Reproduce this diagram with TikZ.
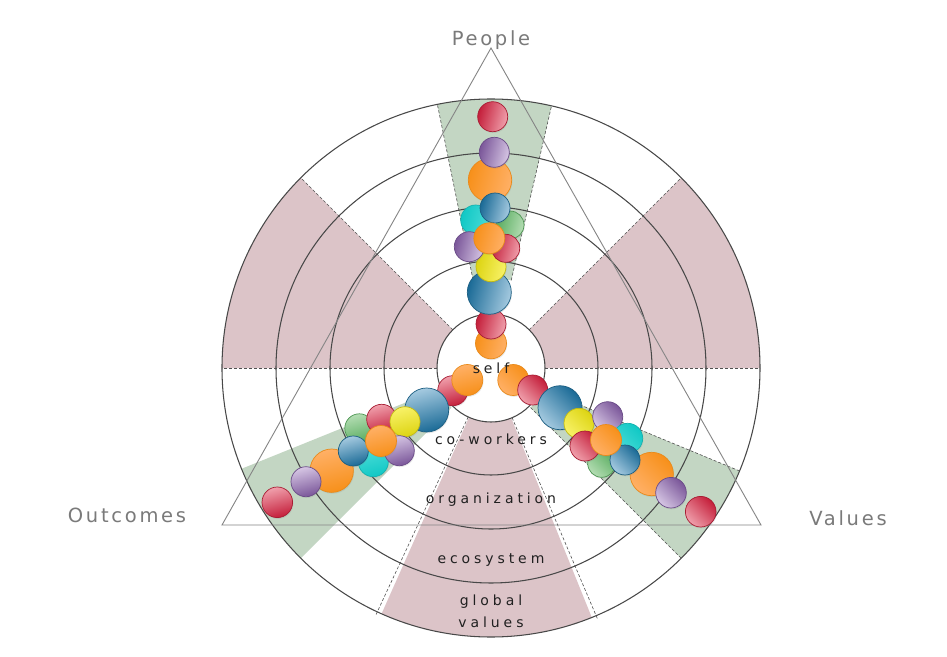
\documentclass[tikz,border=0pt]{standalone}
\usepackage{fontspec}
\setmainfont{DejaVu Sans}
\newfontfamily\outerfont[LetterSpace=14]{DejaVu Sans}
\newfontfamily\ringfont[LetterSpace=28]{DejaVu Sans}
\usetikzlibrary{shadows}
\definecolor{pinkc}{HTML}{DCC4C8}
\definecolor{greenc}{HTML}{C3D6C3}
\definecolor{ringc}{HTML}{484848}
\definecolor{tric}{HTML}{858585}
\definecolor{dashc}{HTML}{505050}
\definecolor{outerc}{HTML}{7A7A7A}
\definecolor{innerc}{HTML}{202020}
\definecolor{redD}{HTML}{C41E3A}\definecolor{redL}{HTML}{F0A0AC}\definecolor{redB}{HTML}{A81C33}
\definecolor{purD}{HTML}{7A5699}\definecolor{purL}{HTML}{D6C6E4}\definecolor{purB}{HTML}{6B4C88}
\definecolor{oraD}{HTML}{F7901A}\definecolor{oraL}{HTML}{FFB066}\definecolor{oraB}{HTML}{E98A1A}
\definecolor{bluD}{HTML}{1A6A96}\definecolor{bluL}{HTML}{A5CAE0}\definecolor{bluB}{HTML}{1B5E82}
\definecolor{cyaD}{HTML}{10C8C5}\definecolor{cyaL}{HTML}{4CDCD8}\definecolor{cyaB}{HTML}{15B2AF}
\definecolor{greD}{HTML}{58AC5F}\definecolor{greL}{HTML}{B4DDB3}\definecolor{greB}{HTML}{4C9552}
\definecolor{yelD}{HTML}{DDD412}\definecolor{yelL}{HTML}{F8F268}\definecolor{yelB}{HTML}{C3BB10}
\def\armang{75}
\tikzset{
  ball/.style n args={3}{left color=#1, right color=#2, shading angle=\armang, draw=#3, line width=0.7pt,
    drop shadow={shadow xshift=0.7pt, shadow yshift=-1.3pt, opacity=0.18}},
  bred/.style={ball={redD}{redL}{redB}},
  bpur/.style={ball={purD}{purL}{purB}},
  bora/.style={ball={oraD}{oraL}{oraB}},
  bblu/.style={ball={bluD}{bluL}{bluB}},
  bcya/.style={ball={cyaD}{cyaL}{cyaB}},
  bgre/.style={ball={greD}{greL}{greB}},
  byel/.style={ball={yelD}{yelL}{yelB}},
  ringline/.style={draw=ringc, line width=1.05pt},
  dashline/.style={draw=dashc, dashed, dash pattern=on 3pt off 2pt, line width=0.6pt},
  triline/.style={draw=tric, line width=0.9pt},
  outerlbl/.style={text=outerc, font=\outerfont\fontsize{19.5}{22}\selectfont, anchor=base},
  ringlbl/.style={text=innerc, font=\ringfont\fontsize{14}{17}\selectfont, anchor=base, inner sep=0pt}
}
\newcommand\myball[4]{\path[#1] (#2,#3) circle (#4);}
\newcommand\annsec[5]{\fill[#1] (#2:#4) arc[start angle=#2, end angle=#3, radius=#4] -- (#3:#5) arc[start angle=#3, end angle=#2, radius=#5] -- cycle;}
\begin{document}
\begin{tikzpicture}[x=1pt,y=1pt]
\useasboundingbox (-491,-288) rectangle (456,368);
\fill[white] (-491,-288) rectangle (456,368);
% pink sectors
\annsec{pinkc}{135}{180}{54}{269}
\annsec{pinkc}{0}{45}{54}{269}
\annsec{pinkc}{246}{292}{54}{269}
% green sectors
\annsec{greenc}{77}{101.5}{90}{269}
\annsec{greenc}{315}{337.5}{56}{269}
\annsec{greenc}{202}{225}{56}{269}
% dashed edges
\draw[dashline] (135:54) -- (135:269);
\draw[dashline] (180:54) -- (180:269);
\draw[dashline] (45:54) -- (45:269);
\draw[dashline] (0:54) -- (0:269);
\draw[dashline] (245:54) -- (245:272);
\draw[dashline] (293:54) -- (293:272);
\draw[dashline] (77:90) -- (77:269);
\draw[dashline] (101.5:90) -- (101.5:269);
\draw[dashline] (315:56) -- (315:269);
\draw[dashline] (337.5:56) -- (337.5:269);
% rings
\foreach \r in {54,107,161,215,269} \draw[ringline] (0,0) circle (\r);
% triangle
\coordinate (tp) at (0,320);
\coordinate (tl) at (-269,-157);
\coordinate (tr) at (270,-157);
\draw[triline] (tp) -- (tl) -- (tr) -- cycle;
% top arm
\def\armang{75}
\myball{bora}{0}{24.7}{15.5}
\myball{bred}{0}{44}{15}
\myball{bblu}{-1.7}{75.7}{22}
\myball{byel}{0}{101.3}{15}
\myball{bora}{-1}{188}{21.7}
\myball{bpur}{3.3}{215.7}{15}
\myball{bred}{1.7}{251.3}{15}
\myball{bcya}{-15.3}{148}{15}
\myball{bgre}{19}{143}{14}
\myball{bblu}{4}{160}{15}
\myball{bred}{14.7}{119.7}{14}
\myball{bpur}{-21.7}{121.3}{15}
\myball{bora}{-1.7}{129.7}{15.5}
% lower-left arm
\def\armang{195}
\myball{bred}{-38.3}{-22.7}{15}
\myball{bora}{-23.7}{-12}{15.5}
\myball{bblu}{-64.3}{-42}{22}
\myball{bgre}{-131.7}{-60.3}{14.5}
\myball{bred}{-109.3}{-51.3}{15}
\myball{byel}{-86}{-53.7}{15}
\myball{bcya}{-117.7}{-93.7}{15}
\myball{bpur}{-91.7}{-82.7}{15}
\myball{bora}{-159.3}{-102.7}{21.7}
\myball{bpur}{-185}{-113.7}{15}
\myball{bred}{-213.7}{-134.3}{15.3}
\myball{bblu}{-137.7}{-83}{15}
\myball{bora}{-110}{-73}{15.5}
% lower-right arm
\def\armang{-45}
\myball{bora}{22.3}{-12}{15.5}
\myball{bred}{41.7}{-22}{15}
\myball{bblu}{69}{-39.7}{22}
\myball{byel}{88}{-55.3}{15}
\myball{bpur}{116.7}{-48.7}{15}
\myball{bcya}{136.7}{-70.3}{15}
\myball{bgre}{110.7}{-95.3}{14}
\myball{bred}{94}{-78}{15}
\myball{bora}{160.7}{-106}{21.7}
\myball{bblu}{134}{-92}{15}
\myball{bpur}{180}{-124.7}{15.3}
\myball{bred}{209.7}{-143.7}{15.3}
\myball{bora}{115}{-72}{15.5}
% labels (on top)
\node[outerlbl] (people) at (0,322) {People};
\node[outerlbl] (outcomes) at (-364,-154) {Outcomes};
\node[outerlbl] (values) at (357,-157) {Values};
\node[ringlbl] (self) at (0,-5) {self};
\node[ringlbl] (cow) at (0,-76) {co-workers};
\node[ringlbl] (org) at (0,-135) {organization};
\node[ringlbl] (eco) at (0,-195) {ecosystem};
\node[ringlbl] (glob) at (0,-237) {global};
\node[ringlbl] (vals) at (0,-259) {values};
\end{tikzpicture}
\end{document}
